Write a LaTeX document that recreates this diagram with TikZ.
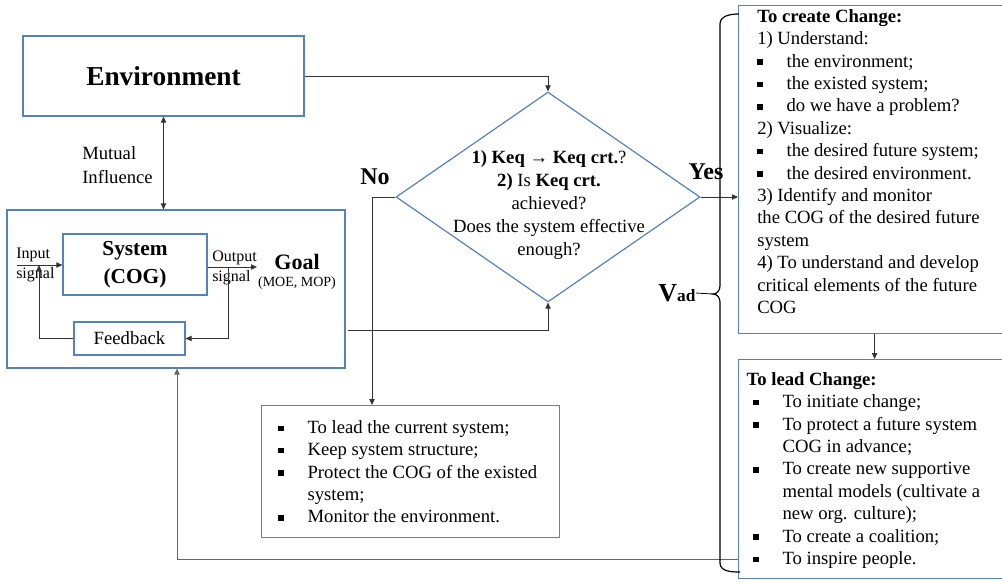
\documentclass[tikz,border=0pt]{standalone}
\usepackage{fontspec}
\setmainfont{Liberation Serif}
\usetikzlibrary{shapes.geometric,arrows.meta}

\definecolor{boxblue}{RGB}{84,130,187}
\newcommand{\pxl}[1]{#1*0.75pt}
\newcommand{\bsq}{\makebox[22pt][l]{\rule[1.6pt]{4.1pt}{4.1pt}}}

\tikzset{
  bluebox/.style={draw=boxblue, line width=0.9pt, inner sep=0pt},
  conn/.style={->, draw=black!80, line width=0.6pt},
  txt/.style={inner sep=0pt, align=left, font=\fontsize{14}{16.8}\selectfont},
  bigbf/.style={inner sep=0pt, font=\bfseries\fontsize{18}{18}\selectfont},
}

\begin{document}
\begin{tikzpicture}[x=0.75pt,y=-0.75pt,>={Triangle[length=4.5pt,width=4pt]}]
\path[use as bounding box, clip] (0,0) rectangle (1002,583);

% boxes
\node[bluebox, minimum width=\pxl{281}, minimum height=\pxl{80}, font=\bfseries\fontsize{20.5}{24}\selectfont] (env) at (163.5,76) {Environment};
\node[bluebox, minimum width=\pxl{338}, minimum height=\pxl{158}] (outer) at (176,289) {};
\node[bluebox, minimum width=\pxl{144}, minimum height=\pxl{61}, align=center, font=\bfseries\fontsize{16}{21}\selectfont] (sys) at (135,264.5) {System\\(COG)};
\node[bluebox, minimum width=\pxl{111}, minimum height=\pxl{33}, font=\fontsize{14}{16}\selectfont] (fb) at (129.5,338.5) {Feedback};
\node[diamond, draw=boxblue, line width=0.9pt, inner sep=0pt, minimum width=\pxl{304}, minimum height=\pxl{210}] (dec) at (548,197) {};
\node[bluebox, anchor=north west, minimum width=\pxl{272}, minimum height=\pxl{328}] (create) at (738,5) {};
\node[bluebox, anchor=north west, minimum width=\pxl{272}, minimum height=\pxl{219}] (lead) at (738,359) {};
\node[bluebox, anchor=north west, minimum width=\pxl{298}, minimum height=\pxl{132}] (keep) at (261,405) {};

% texts
\node[txt, anchor=west] (mutual) at (82,165) {Mutual\\[1pt]Influence};
\node[txt, anchor=west, font=\fontsize{12}{14.5}\selectfont] (insig) at (16,265) {Input\\signal};
\node[txt, anchor=west, font=\fontsize{12}{14.5}\selectfont] (outsig) at (212,268) {Output\\signal};
\node[inner sep=0pt, font=\bfseries\fontsize{16.5}{18}\selectfont] (goal) at (297,262) {Goal};
\node[inner sep=0pt, font=\fontsize{10.5}{12}\selectfont] (moe) at (297,283) {(MOE, MOP)};
\node[txt, align=center, font=\fontsize{14}{17.3}\selectfont] (dectxt) at (549,205) {\textbf{1) Keq → Keq crt.}?\\ \textbf{2)} Is \textbf{Keq crt.}\\ achieved?\\ Does the system effective\\ enough?};
\node[bigbf] (nolbl) at (375,177) {No};
\node[bigbf] (yeslbl) at (706,172) {Yes};
\node[inner sep=0pt, font=\bfseries] (vad) at (677,293) {\fontsize{19.5}{19}\selectfont V\fontsize{13}{13}\selectfont ad};

\node[txt, anchor=north west] (createtxt) at (757,9) {\textbf{To create Change:}\\
1) Understand:\\
\bsq the environment;\\
\bsq the existed system;\\
\bsq do we have a problem?\\
2) Visualize:\\
\bsq the desired future system;\\
\bsq the desired environment.\\
3) Identify and monitor\\
the COG of the desired future\\
system\\
4) To understand and develop\\
critical elements of the future\\
COG};

\node[txt, anchor=north west] (leadtxt) at (753,372) {\hspace*{-5pt}\textbf{To lead Change:}\\
\bsq To initiate change;\\
\bsq To protect a future system\\
\hspace*{22pt}COG in advance;\\
\bsq To create new supportive\\
\hspace*{22pt}mental models (cultivate a\\
\hspace*{22pt}new org. culture);\\
\bsq To create a coalition;\\
\bsq To inspire people.};

\node[txt, anchor=north west] (keeptxt) at (278,420) {\bsq To lead the current system;\\
\bsq Keep system structure;\\
\bsq Protect the COG of the existed\\
\hspace*{22pt}system;\\
\bsq Monitor the environment.};

% loop inside the system
\coordinate (inL) at (17,265);
\coordinate (outR) at (257,267);
\coordinate (fbR) at (228,267);
\coordinate (fbL) at (39,265);
\draw[conn] (inL) -- (inL -| sys.west);
\draw[conn] (sys.east |- outR) -- (outR);
\draw[conn] (fbR) |- (fb.east);
\draw[conn] (fb.west) -| (fbL);

\draw[conn, <->] (env.south) -- (env.south |- outer.north);
\draw[conn] (env.east) -| (dec.north);

\coordinate (outE) at (348,330);
\draw[conn] (outE) -| (dec.south);

\coordinate (noC) at (372,197);
\draw[conn] (dec.west) -- (noC) -- (noC |- keep.north);
\draw[conn] (dec.east) -- (dec.east -| create.west);
\draw[conn] (create.south) -- (lead.north);

\coordinate (retR) at (738,559);
\coordinate (retL) at (177,559);
\draw[conn, draw=black!60] (retR) -- (retL) -- (retL |- outer.south);

% brace
\coordinate (btip) at (713,294);
\draw[line width=0.9pt] (739,14) to[out=180,in=90] (720,24) -- (720,286) to[out=-90,in=0] (btip) to[out=0,in=90] (720,302) -- (720,563) to[out=-90,in=180] (740,572);
\draw[line width=0.6pt] (vad.east) -- (btip);
\end{tikzpicture}
\end{document}
